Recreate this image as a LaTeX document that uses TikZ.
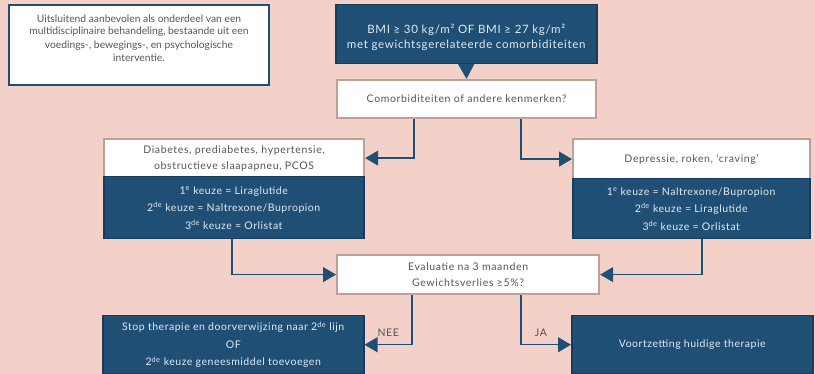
\documentclass[tikz,border=0pt]{standalone}
\usepackage{fontspec}
\setmainfont{Lato}
\usetikzlibrary{arrows.meta,calc}
\definecolor{bgpink}{HTML}{F3D1C8}
\definecolor{navy}{HTML}{1F4F75}
\definecolor{navyedge}{HTML}{173D5C}
\definecolor{paleedge}{HTML}{BE9F99}
\definecolor{greytext}{HTML}{555555}
\definecolor{lighttext}{HTML}{E3EAF1}
\newcommand{\sps}[1]{\textsuperscript{#1}}
\tikzset{
  whitebox/.style={draw=paleedge, line width=2.2pt, fill=white, text=greytext, align=center, anchor=north west, inner sep=0pt,
    font=\fontsize{10.5}{16}\selectfont\addfontfeatures{LetterSpace=6}},
  bluebox/.style={draw=navyedge, line width=1.5pt, fill=navy, text=lighttext, align=center, anchor=north west, inner sep=0pt,
    font=\fontsize{10.5}{17.5}\selectfont\addfontfeatures{LetterSpace=5}},
  notebox/.style={draw=navy, line width=2pt, fill=white, text=greytext, align=center, anchor=north west, inner sep=0pt,
    font=\fontsize{10.3}{12.5}\selectfont},
  conn/.style={draw=navy, line width=1.2pt, -{Triangle[length=13pt,width=15pt]}},
  lbl/.style={text=greytext, font=\fontsize{10.5}{12}\selectfont\addfontfeatures{LetterSpace=6}}
}
\begin{document}
\begin{tikzpicture}[x=1pt,y=-1pt]
\fill[bgpink] (0,0) rectangle (815,374);
\useasboundingbox (0,0) rectangle (815,374);
\node[notebox, minimum width=260pt, minimum height=80pt] (note) at (8,4)
  {Uitsluitend aanbevolen als onderdeel van een\\multidisciplinaire behandeling, bestaande uit een\\[1.5pt]voedings-, bewegings-, en psychologische\\interventie.\\[2pt]};
\node[bluebox, minimum width=261pt, minimum height=59pt, font=\fontsize{11.5}{15.5}\selectfont\addfontfeatures{LetterSpace=6}] (bmi) at (335,4)
  {\rule{0pt}{16pt}BMI ≥ 30 kg/m² OF BMI ≥ 27 kg/m²\\met gewichtsgerelateerde comorbiditeiten};
\node[whitebox, minimum width=259pt, minimum height=38pt] (com) at (336,79)
  {Comorbiditeiten of andere kenmerken?};
\node[whitebox, minimum width=260pt, minimum height=38pt] (diab) at (103,138)
  {Diabetes, prediabetes, hypertensie,\\obstructieve slaapapneu, PCOS};
\node[bluebox, minimum width=260pt, minimum height=62pt] (lmed) at (103,176)
  {1\sps{e} keuze = Liraglutide\\2\sps{de} keuze = Naltrexone/Bupropion\\3\sps{de} keuze = Orlistat};
\node[whitebox, minimum width=237pt, minimum height=40pt] (dep) at (572,138)
  {Depressie, roken, `craving'};
\node[bluebox, minimum width=237pt, minimum height=60pt] (rmed) at (572,178)
  {1\sps{e} keuze = Naltrexone/Bupropion\\2\sps{de} keuze = Liraglutide\\3\sps{de} keuze = Orlistat};
\node[whitebox, minimum width=262pt, minimum height=39pt] (eval) at (336,254)
  {Evaluatie na 3 maanden\\Gewichtsverlies ≥5\%?};
\node[bluebox, minimum width=261pt, minimum height=58pt] (stop) at (102,315)
  {Stop therapie en doorverwijzing naar 2\sps{de} lijn\\OF\\2\sps{de} keuze geneesmiddel toevoegen};
\node[bluebox, minimum width=241pt, minimum height=58pt] (cont) at (571,315)
  {Voortzetting huidige therapie};
\draw[conn, -{Triangle[length=15pt,width=16pt]}] (bmi.south) -- (com.north);
\draw[conn] ($(com.south west)+(78,0)$) |- (diab.east);
\draw[conn] ($(com.south west)+(185,0)$) |- (dep.west);
\draw[conn] ($(lmed.south west)+(129,0)$) |- (eval.west);
\draw[conn] ($(rmed.south west)+(130,0)$) |- (eval.east);
\draw[conn] ($(eval.south west)+(76,0)$) |- (stop.east) node[lbl, pos=0.75, above=4pt] (nee) {NEE};
\draw[conn] ($(eval.south west)+(185,0)$) |- (cont.west) node[lbl, pos=0.7, above=4pt] (ja) {JA};
\end{tikzpicture}
\end{document}
